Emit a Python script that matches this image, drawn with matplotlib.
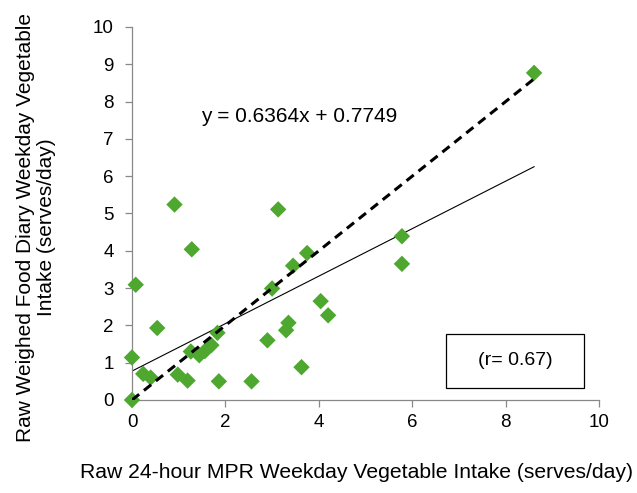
import matplotlib

matplotlib.use("Agg")
import matplotlib.pyplot as plt
import numpy as np
from matplotlib.patches import Rectangle

plt.rcParams["font.family"] = ["Liberation Sans", "DejaVu Sans"]

# Raw 24-hour MPR vs weighed food diary, weekday vegetable intake (serves/day)
mpr_intake = [0.0, 0.0, 0.08, 0.24, 0.40, 0.54, 0.91, 0.98, 1.19, 1.28, 1.26, 1.44, 1.56,
              1.70, 1.83, 1.86, 2.56, 2.90, 3.00, 3.13, 3.30, 3.35, 3.45, 3.63, 3.75,
              4.04, 4.20, 5.78, 5.78, 8.61]
diary_intake = [0.0, 1.14, 3.09, 0.70, 0.60, 1.93, 5.24, 0.68, 0.52, 4.04, 1.30, 1.20, 1.31,
                1.47, 1.80, 0.50, 0.50, 1.60, 2.99, 5.11, 1.87, 2.07, 3.60, 0.88, 3.94,
                2.65, 2.27, 4.39, 3.65, 8.77]
fit_slope = 0.6364
fit_intercept = 0.7749
r_value = 0.67
x_ticks = [0, 2, 4, 6, 8, 10]
y_ticks = list(range(0, 11))

fig = plt.figure(figsize=(6.37, 4.93), dpi=100)
ax = fig.add_axes([132 / 637, 93 / 493, 467 / 637, 373 / 493])

x = np.asarray(mpr_intake)
ax.scatter(x, diary_intake, marker="D", s=70, color="#4ea72e", edgecolors="none",
           zorder=3, clip_on=False)

# regression line over the observed range
fit_x = np.array([0, x.max()])
ax.plot(fit_x, fit_slope * fit_x + fit_intercept, color="black", linewidth=0.8, zorder=2)

# line of identity
ident_x = np.array([0, 8.68])
ax.plot(ident_x, ident_x, color="black", linestyle=(0, (3, 2)), linewidth=2.2, zorder=4)

ax.text(3.57, 7.59, f"y = {fit_slope}x + {fit_intercept}", fontsize=15,
        ha="center", va="center")

ax.add_patch(Rectangle((0.672, 0.032), 0.296, 0.145, transform=ax.transAxes,
                       fill=False, edgecolor="black", linewidth=0.9, zorder=5))
ax.text(0.82, 0.105, f"(r= {r_value})", transform=ax.transAxes, fontsize=14,
        ha="center", va="center")

ax.set_xlim(0, 10)
ax.set_ylim(0, 10)
ax.set_xticks(x_ticks)
ax.set_yticks(y_ticks)
ax.tick_params(labelsize=13.5, labelcolor="black", color="#888888", length=5, width=0.9)
ax.tick_params(axis="y", pad=8)
ax.tick_params(axis="x", pad=5)
for side in ("top", "right"):
    ax.spines[side].set_visible(False)
for side in ("left", "bottom"):
    ax.spines[side].set_color("#888888")
    ax.spines[side].set_linewidth(0.9)

fig.text(357 / 637, 1 - 472 / 493, "Raw 24-hour MPR Weekday Vegetable Intake (serves/day)",
         fontsize=15.2, ha="center", va="center")
fig.text(36 / 637, 1 - 227 / 493, "Raw Weighed Food Diary Weekday Vegetable\nIntake (serves/day)",
         fontsize=15, ha="center", va="center", rotation=90, multialignment="center",
         linespacing=1.15)

fig.savefig("out.png", dpi=100)
